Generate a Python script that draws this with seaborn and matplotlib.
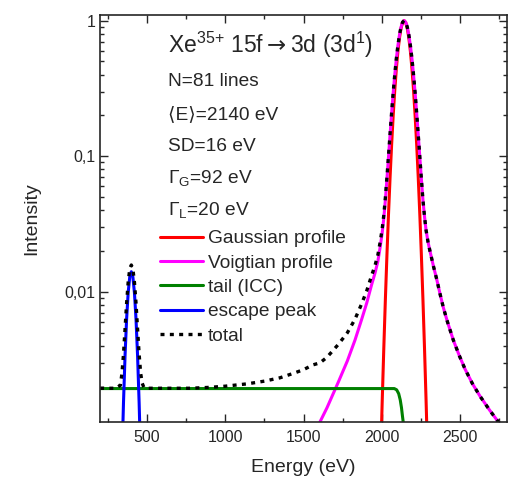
import matplotlib
matplotlib.use("Agg")
import pandas as pd
import matplotlib.pyplot as plt
import seaborn as sns

# Gaussian profile (red)
gauss_e = [1993, 2003, 2013, 2023, 2033, 2043, 2053, 2063, 2073, 2083, 2093, 2103, 2113, 2123, 2133,
           2143, 2153, 2163, 2173, 2183, 2193, 2203, 2213, 2223, 2233, 2243, 2253, 2263, 2273, 2283, 2293]
gauss_i = [0.00061, 0.00159, 0.00386, 0.0088, 0.0187, 0.0374, 0.0698, 0.122, 0.200, 0.306, 0.440,
           0.591, 0.744, 0.877, 0.968, 1.0, 0.968, 0.877, 0.744, 0.591, 0.440, 0.306, 0.200, 0.122,
           0.0698, 0.0374, 0.0187, 0.0088, 0.00386, 0.00159, 0.00061]

# Voigtian profile (magenta)
voigt_e = [1580, 1605, 1650, 1722, 1780, 1829, 1870, 1904, 1935, 1957, 1975, 1990, 2003, 2013, 2023,
           2033, 2043, 2053, 2063, 2073, 2083, 2093, 2103, 2113, 2123, 2133, 2143, 2153, 2163, 2173,
           2183, 2193, 2203, 2213, 2223, 2233, 2243, 2253, 2263, 2273, 2283, 2295, 2308, 2330, 2351,
           2372, 2393, 2420, 2457, 2495, 2532, 2580, 2627, 2690, 2745, 2770]
voigt_i = [0.00100, 0.0011, 0.0014, 0.00216, 0.0031, 0.00442, 0.0062, 0.0083, 0.0113, 0.0138, 0.0168,
           0.0215, 0.0275, 0.0350, 0.0476, 0.068, 0.0989, 0.144, 0.208, 0.293, 0.398, 0.521, 0.653,
           0.783, 0.895, 0.972, 1.0, 0.972, 0.895, 0.783, 0.653, 0.521, 0.398, 0.293, 0.208, 0.144,
           0.0989, 0.068, 0.0476, 0.0360, 0.0285, 0.0235, 0.0200, 0.0155, 0.0124, 0.0097, 0.0077,
           0.0060, 0.00442, 0.0034, 0.00270, 0.00210, 0.00171, 0.00134, 0.0011, 0.00102]

# tail (ICC, green)
tail_e = [200, 2080, 2095, 2108, 2118, 2126, 2132, 2137, 2142]
tail_i = [0.00194, 0.00194, 0.0019, 0.00178, 0.0016, 0.0014, 0.00122, 0.0011, 0.00098]

# escape peak (blue)
esc_e = [340, 350, 360, 370, 380, 390, 400, 410, 420, 430, 440, 450, 460]
esc_i = [0.00057, 0.00152, 0.0034, 0.00633, 0.00987, 0.0129, 0.0141, 0.0129, 0.00987, 0.00633,
         0.0034, 0.00152, 0.00057]

# total (dotted)
total_e = [200, 300, 330, 340, 350, 360, 370, 380, 390, 400, 410, 420, 430, 440, 450, 460, 470, 480,
           500, 775, 900, 1000, 1137, 1250, 1350, 1430, 1499, 1560, 1605, 1650, 1722, 1780, 1829,
           1870, 1904, 1935, 1957, 1975, 1990, 2003, 2013, 2023, 2033, 2043, 2053, 2063, 2073, 2083,
           2093, 2103, 2113, 2123, 2133, 2143, 2153, 2163, 2173, 2183, 2193, 2203, 2213, 2223, 2233,
           2243, 2253, 2263, 2273, 2283, 2295, 2308, 2330, 2351, 2372, 2393, 2420, 2457, 2495, 2532,
           2580, 2627, 2690, 2745, 2770]
total_i = [0.00195, 0.00195, 0.00205, 0.0025, 0.00346, 0.00534, 0.00827, 0.0118, 0.0148, 0.0158,
           0.0148, 0.0118, 0.00827, 0.00534, 0.00346, 0.0025, 0.00212, 0.00198, 0.00195, 0.00195,
           0.00198, 0.00202, 0.0021, 0.0022, 0.00233, 0.0025, 0.00267, 0.0029, 0.0030, 0.0033, 0.0041,
           0.0050, 0.0063, 0.0081, 0.0102, 0.0132, 0.0157, 0.0187, 0.0234, 0.0294, 0.0369, 0.0495,
           0.070, 0.101, 0.146, 0.210, 0.295, 0.400, 0.523, 0.655, 0.785, 0.897, 0.974, 1.0, 0.972,
           0.895, 0.783, 0.653, 0.521, 0.398, 0.293, 0.208, 0.144, 0.0989, 0.068, 0.0476, 0.0360,
           0.0285, 0.0235, 0.0200, 0.0155, 0.0124, 0.0097, 0.0077, 0.0060, 0.00442, 0.0034, 0.00270,
           0.00210, 0.00171, 0.00134, 0.0011, 0.00102]

x_ticks = [500, 1000, 1500, 2000, 2500]
y_ticks = [0.01, 0.1, 1]
y_ticklabels = ["0,01", "0,1", "1"]

sns.set_style("ticks", {"xtick.direction": "in", "ytick.direction": "in"})
plt.rcParams["font.family"] = ["Liberation Sans", "DejaVu Sans"]
plt.rcParams["mathtext.fontset"] = "custom"
plt.rcParams["mathtext.rm"] = "Liberation Sans"
plt.rcParams["mathtext.sf"] = "DejaVu Sans"
plt.rcParams["mathtext.default"] = "regular"

fig = plt.figure(figsize=(5.2, 4.84), dpi=100)
ax = fig.add_axes([100 / 520, 1 - 422 / 484, 407 / 520, 407 / 484])

curves = [
    (gauss_e, gauss_i, "#ff0000", "Gaussian profile"),
    (voigt_e, voigt_i, "#ff00ff", "Voigtian profile"),
    (tail_e, tail_i, "#008000", "tail (ICC)"),
    (esc_e, esc_i, "#0000ff", "escape peak"),
]
for e, i, col, lab in curves:
    df = pd.DataFrame({"Energy": e, "Intensity": i})
    sns.lineplot(data=df, x="Energy", y="Intensity", color=col, lw=2.2,
                 sort=False, estimator=None, label=lab, ax=ax)

df_tot = pd.DataFrame({"Energy": total_e, "Intensity": total_i})
sns.lineplot(data=df_tot, x="Energy", y="Intensity", color="black", lw=2.4,
             linestyle=(0, (1.2, 1.6)), sort=False, estimator=None, label="total", ax=ax)

ax.set_yscale("log")
ax.set_xlim(200, 2800)
ax.set_ylim(0.0011, 1.1)
ax.set_xticks(x_ticks)
ax.set_xticks(range(250, 2800, 250), minor=True)
ax.set_yticks(y_ticks)
ax.set_yticklabels(y_ticklabels)
ax.tick_params(which="both", top=True, right=True, direction="in", labelsize=11.5, width=1)
ax.tick_params(which="major", length=6)
ax.tick_params(which="minor", length=3)
ax.tick_params(axis="x", pad=6)
for s in ax.spines.values():
    s.set_linewidth(1.2)
ax.set_xlabel("Energy (eV)", fontsize=14, labelpad=10)
ax.set_ylabel("Intensity", fontsize=14, labelpad=17)

tx = 0.167
ax.text(tx, 0.9066, "Xe$^{\\text{35+}}$ 15f$\\mathsf{\\rightarrow}$3d (3d$^{1}$)",
        transform=ax.transAxes, fontsize=16.5)
ax.text(tx, 0.8256, "N=81 lines", transform=ax.transAxes, fontsize=13.8)
ax.text(tx, 0.7445, "\u27e8E\u27e9=2140 eV", transform=ax.transAxes, fontsize=13.8)
ax.text(tx, 0.6658, "SD=16 eV", transform=ax.transAxes, fontsize=13.8)
ax.text(tx, 0.5872, "\u0393$_{G}$=92 eV", transform=ax.transAxes, fontsize=13.8)
ax.text(tx, 0.5086, "\u0393$_{L}$=20 eV", transform=ax.transAxes, fontsize=13.8)

ax.legend(loc="upper left", bbox_to_anchor=(0.147, 0.4717), frameon=False, fontsize=13.8,
          handlelength=2.25, handletextpad=0.27, labelspacing=0.36, borderpad=0, borderaxespad=0)

fig.savefig("out.png", dpi=100)
